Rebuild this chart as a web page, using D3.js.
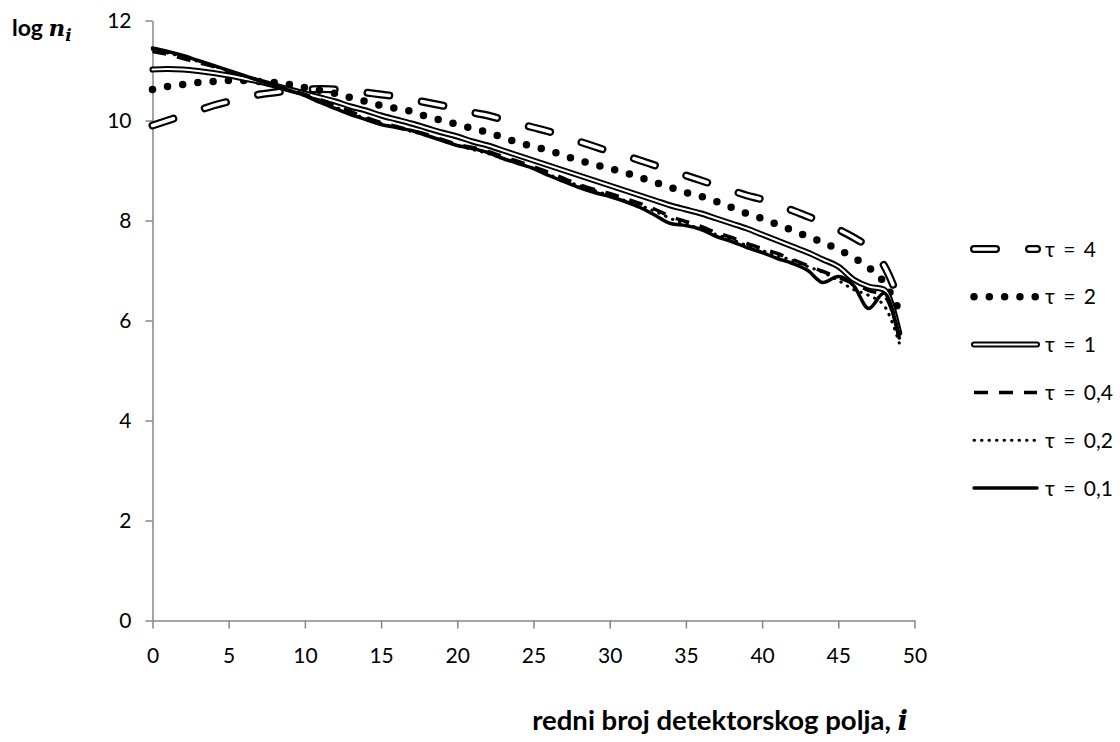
<!DOCTYPE html>
<html>
<head>
<meta charset="utf-8">
<script src="https://cdn.jsdelivr.net/npm/d3@7"></script>
<style>
  html, body { margin: 0; padding: 0; background: #fff; }
  svg text { font-family: Lato, "Open Sans", sans-serif; fill: #000; }
</style>
</head>
<body>
<svg id="chart" width="1120" height="742"></svg>
<script>
// ---- data ----
const idx = d3.range(0, 50); // detector field index i = 0..49
const seriesNames = ["τ = 4", "τ = 2", "τ = 1", "τ = 0,4", "τ = 0,2", "τ = 0,1"];
const tau4 = [9.9,10.0,10.1,10.2,10.3,10.38,10.46,10.52,10.56,10.6,10.62,10.63,10.62,10.6,10.56,10.52,10.48,10.42,10.36,10.3,10.24,10.16,10.1,10.02,9.94,9.86,9.78,9.68,9.58,9.48,9.38,9.3,9.2,9.1,9.0,8.9,8.8,8.7,8.6,8.5,8.42,8.3,8.2,8.08,7.96,7.82,7.66,7.46,7.1,6.4];
const tau2 = [10.62,10.68,10.72,10.76,10.78,10.8,10.8,10.78,10.76,10.72,10.66,10.6,10.54,10.46,10.38,10.3,10.24,10.18,10.08,10.0,9.92,9.84,9.76,9.66,9.56,9.48,9.4,9.3,9.2,9.12,9.04,8.96,8.86,8.76,8.66,8.56,8.48,8.38,8.26,8.14,8.04,7.92,7.8,7.68,7.56,7.42,7.26,7.06,6.76,6.2];
const tau1 = [11.02,11.03,11.02,10.99,10.95,10.9,10.84,10.78,10.7,10.62,10.54,10.46,10.38,10.28,10.2,10.1,10.02,9.94,9.85,9.76,9.68,9.58,9.5,9.4,9.3,9.2,9.1,9.0,8.9,8.8,8.7,8.6,8.5,8.4,8.3,8.22,8.14,8.04,7.94,7.84,7.72,7.6,7.48,7.36,7.22,7.08,6.82,6.68,6.62,5.75];
const tau04 = [11.38,11.32,11.24,11.16,11.08,10.98,10.9,10.8,10.7,10.62,10.52,10.42,10.3,10.18,10.06,9.96,9.88,9.8,9.72,9.62,9.52,9.46,9.38,9.28,9.18,9.08,8.96,8.84,8.72,8.62,8.54,8.44,8.34,8.22,8.08,7.98,7.88,7.76,7.66,7.54,7.44,7.34,7.22,7.1,6.98,6.86,6.74,6.6,6.5,5.7];
const tau02 = [11.42,11.35,11.27,11.18,11.09,11.0,10.9,10.8,10.7,10.6,10.5,10.4,10.27,10.15,10.04,9.94,9.86,9.78,9.7,9.6,9.5,9.42,9.34,9.24,9.14,9.04,8.92,8.8,8.7,8.6,8.5,8.4,8.3,8.18,8.04,7.92,7.84,7.72,7.62,7.5,7.4,7.3,7.2,7.08,6.96,6.8,6.62,6.5,6.3,5.55];
const tau01 = [11.45,11.38,11.3,11.2,11.1,11.0,10.9,10.8,10.7,10.6,10.5,10.36,10.24,10.12,10.02,9.92,9.86,9.8,9.7,9.6,9.5,9.44,9.36,9.24,9.14,9.04,8.9,8.78,8.66,8.56,8.48,8.38,8.26,8.1,7.94,7.9,7.82,7.68,7.58,7.46,7.36,7.24,7.14,7.0,6.76,6.88,6.7,6.24,6.55,5.65];
const xTicks = [0,5,10,15,20,25,30,35,40,45,50];
const yTicks = [0,2,4,6,8,10,12];

// ---- styles ----
const styles = [
  { layers: [{w: 8, c: "#000", dash: "22 33", cap: "round"}, {w: 3.5, c: "#fff", dash: "22 33", cap: "round"}] },
  { layers: [{w: 7.5, c: "#000", dash: "0 15.3", cap: "round"}] },
  { layers: [{w: 6, c: "#000", dash: null, cap: "round"}, {w: 2, c: "#fff", dash: null, cap: "round"}] },
  { layers: [{w: 3.5, c: "#000", dash: "14 11", cap: "butt"}] },
  { layers: [{w: 3, c: "#000", dash: "0.5 7", cap: "round"}] },
  { layers: [{w: 3.5, c: "#000", dash: null, cap: "round"}] }
];
const allSeries = [tau4, tau2, tau1, tau04, tau02, tau01];

const svg = d3.select("#chart");
const x = d3.scaleLinear().domain([0, 50]).range([152.5, 914.5]);
const y = d3.scaleLinear().domain([0, 12]).range([620.5, 20.5]);
const axisColor = "#868686";

// axes
const gx = svg.append("g").attr("transform", `translate(0,${y(0)})`)
  .call(d3.axisBottom(x).tickValues(xTicks).tickSize(8).tickSizeOuter(0).tickPadding(20));
const gy = svg.append("g").attr("transform", `translate(${x(0)},0)`)
  .call(d3.axisLeft(y).tickValues(yTicks).tickSize(7).tickSizeOuter(0).tickPadding(14));
[gx, gy].forEach(g => {
  g.selectAll("path, line").attr("stroke", axisColor).attr("stroke-width", 1.5);
  g.selectAll("text").attr("font-family", "Lato, sans-serif").attr("font-size", 21).attr("fill", "#000");
});

// lines
const line = d3.line().x((d, i) => x(idx[i])).y(d => y(d)).curve(d3.curveMonotoneX);
const plot = svg.append("g");
allSeries.forEach((vals, k) => {
  styles[k].layers.forEach(L => {
    plot.append("path").attr("d", line(vals)).attr("fill", "none")
      .attr("stroke", L.c).attr("stroke-width", L.w)
      .attr("stroke-dasharray", L.dash).attr("stroke-linecap", L.cap)
      .attr("stroke-linejoin", "round");
  });
});

// legend
const legY0 = 249, legStep = 47.8;
const leg = svg.append("g");
seriesNames.forEach((name, k) => {
  const yy = legY0 + k * legStep;
  styles[k].layers.forEach(L => {
    leg.append("line").attr("x1", 974).attr("x2", 1037).attr("y1", yy).attr("y2", yy)
      .attr("stroke", L.c).attr("stroke-width", L.w)
      .attr("stroke-dasharray", L.dash).attr("stroke-linecap", L.cap);
  });
  leg.append("text").attr("x", 1045).attr("y", yy).attr("dy", "0.36em")
    .attr("font-size", 21).attr("word-spacing", 3).text(name);
});

// axis titles
const yt = svg.append("text").attr("x", 12).attr("y", 36).attr("font-size", 23).attr("font-weight", "bold");
yt.append("tspan").text("log ");
yt.append("tspan").attr("font-family", "'DejaVu Serif', 'Liberation Serif', serif").attr("font-style", "italic").text("n");
yt.append("tspan").attr("font-family", "'DejaVu Serif', 'Liberation Serif', serif").attr("font-style", "italic")
  .attr("font-size", 17).attr("dy", 5).text("i");

const xt = svg.append("text").attr("x", 908).attr("y", 730).attr("text-anchor", "end")
  .attr("font-size", 27.5).attr("font-weight", "bold");
xt.append("tspan").text("redni broj detektorskog polja, ");
xt.append("tspan").attr("font-family", "'DejaVu Serif', 'Liberation Serif', serif").attr("font-style", "italic").text("i");
</script>
</body>
</html>
